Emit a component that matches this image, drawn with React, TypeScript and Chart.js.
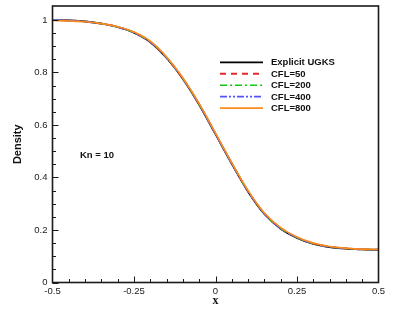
import { useEffect, useRef } from "react";
import { Chart, registerables } from "chart.js";

Chart.register(...registerables);

const xValues = [-0.5, -0.45, -0.4, -0.35, -0.3, -0.25, -0.2, -0.15, -0.1, -0.05, 0, 0.05, 0.1, 0.15, 0.2, 0.25, 0.3, 0.35, 0.4, 0.45, 0.5];
const densityExplicit = [1.0, 0.998, 0.994, 0.986, 0.973, 0.951, 0.915, 0.855, 0.775, 0.677, 0.565, 0.452, 0.346, 0.261, 0.205, 0.17, 0.147, 0.135, 0.129, 0.126, 0.124];
const densityCfl50 = [1.0, 0.998, 0.994, 0.986, 0.973, 0.952, 0.916, 0.856, 0.776, 0.678, 0.566, 0.453, 0.347, 0.262, 0.206, 0.171, 0.148, 0.136, 0.13, 0.126, 0.125];
const densityCfl200 = [1.0, 0.998, 0.994, 0.986, 0.973, 0.952, 0.916, 0.856, 0.776, 0.678, 0.566, 0.453, 0.347, 0.262, 0.206, 0.171, 0.148, 0.136, 0.13, 0.126, 0.125];
const densityCfl400 = [1.0, 0.998, 0.994, 0.986, 0.973, 0.952, 0.916, 0.856, 0.776, 0.678, 0.566, 0.453, 0.347, 0.262, 0.206, 0.171, 0.148, 0.136, 0.13, 0.126, 0.125];
const densityCfl800 = [0.998, 0.996, 0.993, 0.986, 0.974, 0.954, 0.919, 0.859, 0.779, 0.681, 0.569, 0.456, 0.35, 0.265, 0.209, 0.173, 0.15, 0.137, 0.131, 0.127, 0.126];

const seriesLabels = ["Explicit UGKS", "CFL=50", "CFL=200", "CFL=400", "CFL=800"];
const xTickValues = [-0.5, -0.25, 0, 0.25, 0.5];
const xTickLabels = ["-0.5", "-0.25", "0", "0.25", "0.5"];
const yTickValues = [0, 0.2, 0.4, 0.6, 0.8, 1];
const yTickLabels = ["0", "0.2", "0.4", "0.6", "0.8", "1"];
const xMinorStep = 0.05;
const yMinorStep = 0.05;
const xAxisTitle = "x";
const yAxisTitle = "Density";
const annotationText = "Kn = 10";

const seriesData = [densityExplicit, densityCfl50, densityCfl200, densityCfl400, densityCfl800];
const seriesStyles = [
  { color: "#000000", width: 1.8, dash: [] as number[] },
  { color: "#e3282d", width: 1.8, dash: [6, 5] },
  { color: "#16c416", width: 1.6, dash: [7, 3, 2, 3] },
  { color: "#5252ff", width: 1.6, dash: [7, 2, 2, 2, 2, 2] },
  { color: "#ff8a1c", width: 1.6, dash: [] as number[] },
];

const FONT = "'Liberation Sans', Arial, Helvetica, sans-serif";

const framePlugin = {
  id: "frameTicksLegend",
  afterDraw(chart: any) {
    const ctx = chart.ctx;
    const { left, right, top, bottom } = chart.chartArea;
    const xs = chart.scales.x;
    const ys = chart.scales.y;
    ctx.save();
    ctx.strokeStyle = "#1a1a1a";
    ctx.lineWidth = 1;
    const yMax = ys.max;
    for (let v = 0; v <= yMax + 1e-9; v += yMinorStep) {
      const vv = Math.round(v * 1000) / 1000;
      const isMajor = yTickValues.some((t) => Math.abs(t - vv) < 1e-6);
      const py = Math.round(ys.getPixelForValue(vv)) + 0.5;
      if (py < top + 2) continue;
      ctx.beginPath();
      ctx.moveTo(left, py);
      ctx.lineTo(left + (isMajor ? 6 : 3.5), py);
      ctx.stroke();
    }
    for (let v = xs.min; v <= xs.max + 1e-9; v += xMinorStep) {
      const vv = Math.round(v * 1000) / 1000;
      const isMajor = xTickValues.some((t) => Math.abs(t - vv) < 1e-6);
      const px = Math.round(xs.getPixelForValue(vv)) + 0.5;
      if (px < left + 2 || px > right - 2) continue;
      ctx.beginPath();
      ctx.moveTo(px, bottom);
      ctx.lineTo(px, bottom - (isMajor ? 6 : 3.5));
      ctx.stroke();
    }
    ctx.strokeStyle = "#1a1a1a";
    ctx.lineWidth = 1.6;
    ctx.strokeRect(left, top, right - left, bottom - top);

    const lx0 = left + 167.5;
    const lx1 = left + 210.5;
    const tx = left + 218.5;
    const ly0 = top + 56.3;
    const step = 11.45;
    ctx.font = `bold 9.5px ${FONT}`;
    ctx.textBaseline = "middle";
    ctx.textAlign = "left";
    seriesLabels.forEach((label, i) => {
      const st = seriesStyles[i];
      const y = ly0 + i * step;
      ctx.strokeStyle = st.color;
      ctx.lineWidth = st.width;
      ctx.setLineDash(st.dash);
      ctx.beginPath();
      ctx.moveTo(lx0, y);
      ctx.lineTo(lx1, y);
      ctx.stroke();
      ctx.setLineDash([]);
      ctx.fillStyle = "#111";
      ctx.fillText(label, tx, y + 0.5);
    });
    ctx.fillStyle = "#111";
    ctx.font = `bold 9.5px ${FONT}`;
    ctx.fillText(annotationText, left + 27.5, top + 149.7);
    ctx.restore();
  },
};

export default function App() {
  const canvasRef = useRef<HTMLCanvasElement | null>(null);

  useEffect(() => {
    const canvas = canvasRef.current;
    if (!canvas) return;
    const datasets = seriesLabels.map((label, i) => ({
      label,
      data: xValues.map((x, j) => ({ x, y: seriesData[i][j] })),
      borderColor: seriesStyles[i].color,
      backgroundColor: seriesStyles[i].color,
      borderWidth: seriesStyles[i].width,
      borderDash: seriesStyles[i].dash,
      pointRadius: 0,
      fill: false,
      cubicInterpolationMode: "monotone" as const,
      order: seriesLabels.length - i,
    }));
    const chart = new Chart(canvas, {
      type: "line",
      data: { datasets },
      options: {
        responsive: false,
        animation: false,
        devicePixelRatio: 1,
        layout: { padding: { top: 6, right: 20.5, left: 0, bottom: 0 } },
        plugins: {
          legend: { display: false },
          tooltip: { enabled: false },
        },
        scales: {
          x: {
            type: "linear",
            min: -0.5,
            max: 0.5,
            grid: { display: false, drawTicks: false },
            border: { display: false },
            afterBuildTicks: (s: any) => {
              s.ticks = xTickValues.map((v) => ({ value: v }));
            },
            afterFit: (s: any) => {
              s.height = 36.5;
              s.paddingLeft = 0;
              s.paddingRight = 0;
              s.paddingTop = 0;
              s.paddingBottom = 0;
            },
            ticks: {
              autoSkip: false,
              maxRotation: 0,
              padding: 3,
              color: "#1a1a1a",
              font: { family: FONT, size: 9.5 },
              callback: (v: any) => {
                const k = xTickValues.findIndex((t) => Math.abs(t - Number(v)) < 1e-9);
                return k >= 0 ? xTickLabels[k] : "";
              },
            },
            title: {
              display: true,
              text: xAxisTitle,
              color: "#111",
              font: { family: "'Liberation Serif', 'Times New Roman', serif", size: 12, weight: "bold" },
              padding: { top: 0, bottom: 11 },
            },
          },
          y: {
            type: "linear",
            min: 0,
            max: 1.053,
            grid: { display: false, drawTicks: false },
            border: { display: false },
            afterBuildTicks: (s: any) => {
              s.ticks = yTickValues.map((v) => ({ value: v }));
            },
            afterFit: (s: any) => {
              s.width = 52.5;
              s.paddingLeft = 0;
              s.paddingRight = 0;
              s.paddingTop = 0;
              s.paddingBottom = 0;
            },
            ticks: {
              autoSkip: false,
              padding: 5,
              color: "#1a1a1a",
              font: { family: FONT, size: 9.5 },
              callback: (v: any) => {
                const k = yTickValues.findIndex((t) => Math.abs(t - Number(v)) < 1e-9);
                return k >= 0 ? yTickLabels[k] : "";
              },
            },
            title: {
              display: true,
              text: yAxisTitle,
              color: "#111",
              font: { family: FONT, size: 11, weight: "bold" },
              padding: { top: 11, bottom: 0 },
            },
          },
        },
      },
      plugins: [framePlugin],
    });
    return () => chart.destroy();
  }, []);

  return (
    <div style={{ position: "absolute", left: 0, top: 0, width: 399, height: 319, background: "#fff" }}>
      <canvas ref={canvasRef} width={399} height={319} style={{ display: "block", width: 399, height: 319 }} />
    </div>
  );
}
